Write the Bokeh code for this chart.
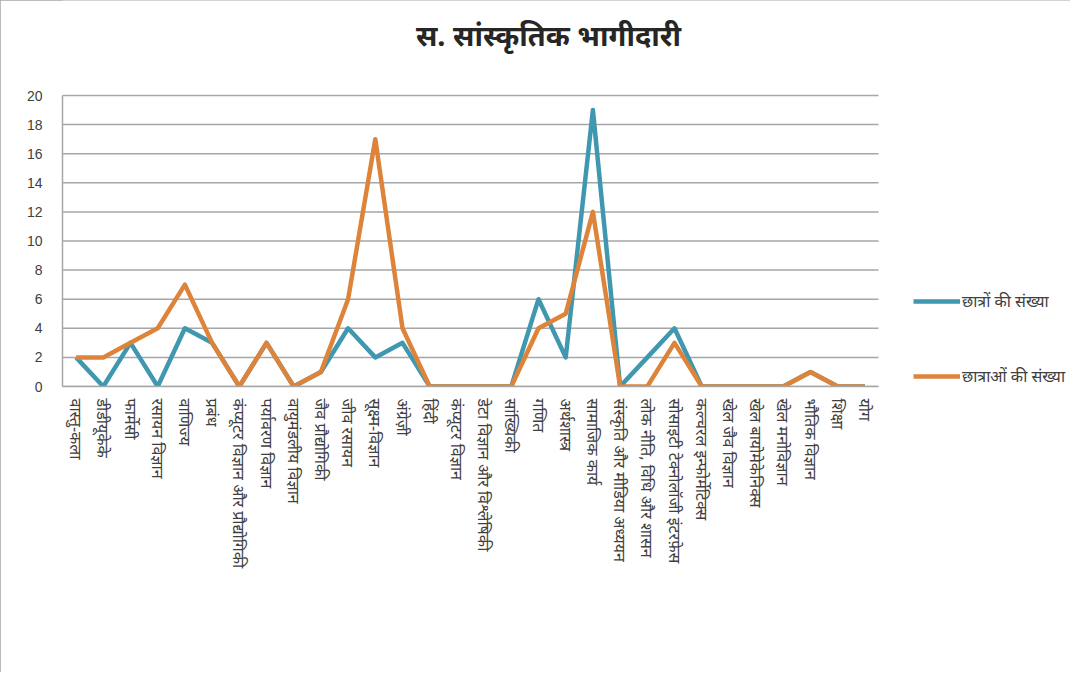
from bokeh.plotting import figure
from bokeh.models import FixedTicker, Legend, LegendItem, Label, Range1d
from bokeh.embed import file_html
from bokeh.resources import INLINE

categories = [
    "वास्तु-कला", "डीडीयूकेके", "फार्मेसी", "रसायन विज्ञान", "वाणिज्य", "प्रबंध",
    "कंप्यूटर विज्ञान और प्रौद्योगिकी", "पर्यावरण विज्ञान", "वायुमंडलीय विज्ञान",
    "जैव प्रौद्योगिकी", "जीव रसायन", "सूक्ष्म-विज्ञान", "अंग्रेज़ी", "हिंदी",
    "कंप्यूटर विज्ञान", "डेटा विज्ञान और विश्लेषिकी", "सांख्यिकी", "गणित",
    "अर्थशास्त्र", "सामाजिक कार्य", "संस्कृति और मीडिया अध्ययन",
    "लोक नीति, विधि और शासन", "सोसाइटी टेक्नोलॉजी इंटरफ़ेस", "कल्चरल इन्फोर्मेटिक्स",
    "खेल जैव विज्ञान", "खेल बायोमेकेनिक्स", "खेल मनोविज्ञान", "भौतिक विज्ञान",
    "शिक्षा", "योग",
]
boys = [2, 0, 3, 0, 4, 3, 0, 3, 0, 1, 4, 2, 3, 0, 0, 0, 0, 6, 2, 19, 0, 2, 4, 0, 0, 0, 0, 1, 0, 0]
girls = [2, 2, 3, 4, 7, 3, 0, 3, 0, 1, 6, 17, 4, 0, 0, 0, 0, 4, 5, 12, 0, 0, 3, 0, 0, 0, 0, 1, 0, 0]
y_ticks = [0, 2, 4, 6, 8, 10, 12, 14, 16, 18, 20]
series_names = ["छात्रों की संख्या", "छात्राओं की संख्या"]
title_text = "स. सांस्कृतिक भागीदारी"

BLUE = "#3F97B0"
ORANGE = "#DD843A"
GRID = "#A6A6A6"
TEXT = "#404040"
FONT = "Noto Sans"

n = len(categories)
xs = list(range(1, n + 1))
x_lo = 0.5
x_hi = n + 0.5
y_max = y_ticks[-1]

# Frame covers the full canvas right of / above the axes; plot area 62..878 x 95..386
W, H = 1070, 672
LEFT, BOTTOM = 62, 286
px_per_cat = (878 - LEFT) / n
px_per_unit = (386 - 95) / y_max

p = figure(
    width=W, height=H,
    x_range=Range1d(x_lo, x_lo + (W - LEFT) / px_per_cat),
    y_range=Range1d(0, (H - BOTTOM) / px_per_unit),
    output_backend="svg", toolbar_location=None,
    min_border_left=LEFT, min_border_right=0,
    min_border_top=0, min_border_bottom=BOTTOM,
)
p.styles = {"outline": "1px solid #A6A6A6", "outline-offset": "-1px"}
p.outline_line_color = None
p.background_fill_color = "white"
p.border_fill_color = "white"
p.xgrid.grid_line_color = None
p.ygrid.grid_line_color = None

# horizontal gridlines across the plot area only
p.segment(x0=[x_lo] * len(y_ticks), x1=[x_hi] * len(y_ticks), y0=y_ticks, y1=y_ticks,
          line_color=GRID, line_width=1.5)

r1 = p.line(xs, boys, line_color=BLUE, line_width=4.5, line_join="round")
r2 = p.line(xs, girls, line_color=ORANGE, line_width=4.5, line_join="round")

# y axis
p.yaxis.ticker = FixedTicker(ticks=y_ticks)
p.yaxis.bounds = (0, y_max)
p.yaxis.axis_line_color = GRID
p.yaxis.axis_line_width = 1.5
p.yaxis.major_tick_line_color = None
p.yaxis.minor_tick_line_color = None
p.yaxis.major_label_standoff = 14
p.yaxis.major_label_text_font = "Liberation Sans"
p.yaxis.major_label_text_font_size = "14px"
p.yaxis.major_label_text_color = TEXT

# x axis (categories)
p.xaxis.ticker = FixedTicker(ticks=xs)
p.xaxis.major_label_overrides = {x: c for x, c in zip(xs, categories)}
p.xaxis.bounds = (x_lo, x_hi)
p.xaxis.axis_line_color = GRID
p.xaxis.axis_line_width = 1.5
p.xaxis.major_tick_line_color = None
p.xaxis.minor_tick_line_color = None
p.xaxis.major_label_orientation = "vertical"
p.xaxis.major_label_standoff = 6
p.xaxis.major_label_text_font = FONT
p.xaxis.major_label_text_font_size = "16px"
p.xaxis.major_label_text_color = TEXT

# title
title = Label(
    x=486, y=352, x_units="screen", y_units="screen",
    text=title_text, text_align="center", text_baseline="middle",
    text_font=FONT, text_font_size="29px", text_font_style="bold",
    text_color="#262626",
)
p.add_layout(title)

legend = Legend(
    items=[LegendItem(label=series_names[0], renderers=[r1]),
           LegendItem(label=series_names[1], renderers=[r2])],
    location=(851, -1),
    padding=0, margin=0, spacing=53,
    glyph_width=47, glyph_height=20, label_height=20, label_standoff=2,
    label_text_font=FONT, label_text_font_size="16px", label_text_color=TEXT,
    background_fill_alpha=0, border_line_color=None,
)
p.add_layout(legend, "center")

open("out.html", "w").write(file_html(p, INLINE))
